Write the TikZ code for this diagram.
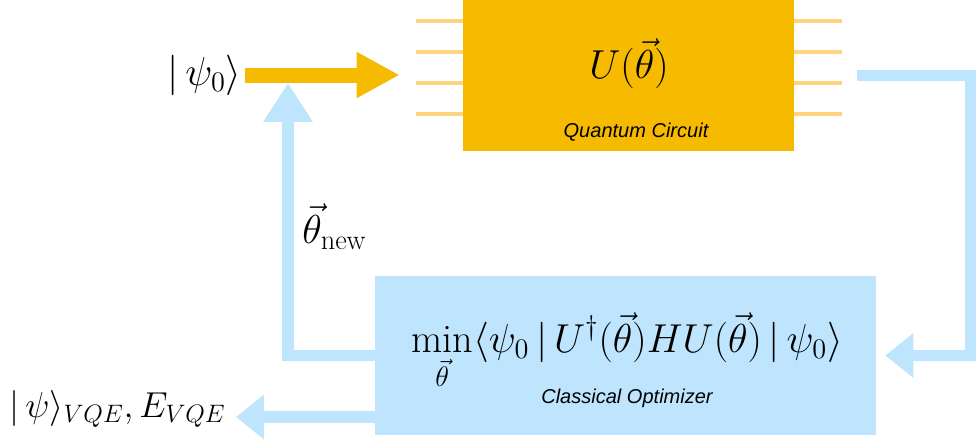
\RequirePackage{fix-cm}
\documentclass[tikz,border=0pt]{standalone}
\usepackage{fontspec}
\usepackage{amsmath}
\usetikzlibrary{arrows.meta,positioning,calc}
\newfontfamily\boxfont{Liberation Sans}
\definecolor{qyellow}{HTML}{F6BA00}
\definecolor{qwire}{HTML}{FFD47E}
\definecolor{qblue}{HTML}{BEE5FD}
\tikzset{
  circuitbox/.style={rectangle,fill=qyellow,draw=none,minimum width=6.62cm,minimum height=3.02cm,inner sep=0pt},
  optbox/.style={rectangle,fill=qblue,draw=none,minimum width=10.02cm,minimum height=3.18cm,inner sep=0pt},
  wire/.style={line width=0.08cm,qwire},
  yarrow/.style={-{Triangle[length=0.86cm,width=0.86cm]},line width=0.3cm,qyellow},
  barrow/.style={-{Triangle[length=0.56cm,width=0.86cm]},line width=0.23cm,qblue},
  bup/.style={-{Triangle[length=0.78cm,width=0.94cm]},line width=0.23cm,qblue},
  bigmath/.style={font=\fontsize{23}{27}\selectfont,inner sep=0pt},
  boxnote/.style={font=\boxfont\itshape\fontsize{11.4}{13}\selectfont,inner sep=0pt}
}

\begin{document}
\begin{tikzpicture}[x=0.02cm,y=-0.02cm]
  \useasboundingbox (0,0) rectangle (976,440);
  % boxes
  \node[circuitbox] (circuit) at (628.5,75.5) {};
  \node[optbox] (optimizer) at (625.5,355.5) {};
  % qubit wires
  \foreach \wy in {21,52,83,114} {
    \draw[wire] (circuit.west |- 0,\wy) -- ++(-47,0);
    \draw[wire] (circuit.east |- 0,\wy) -- ++(48,0);
  }
  % texts
  \node[bigmath,anchor=base] (unitary) at (629,78) {$U(\vec{\theta})$};
  \node[boxnote,anchor=base] (qclabel) at (636,137) {Quantum Circuit};
  \node[bigmath,anchor=base] (cost) at (627,352)
    {$\displaystyle\min_{\vec{\theta}}\langle\psi_0\,|\,U^{\dagger}(\vec{\theta})HU(\vec{\theta})\,|\,\psi_0\rangle$};
  \node[boxnote,anchor=base] (oplabel) at (627,403) {Classical Optimizer};
  \node[bigmath,anchor=east] (psiin) at (242,75) {$|\,\psi_0\rangle$};
  \node[bigmath,font=\fontsize{20.5}{24}\selectfont,anchor=base east] (psiout) at (226,417)
    {$|\,\psi\rangle_{VQE},E_{VQE}$};
  \node[bigmath,anchor=base west] (thetanew) at (302,243) {$\vec{\theta}_{\mathrm{new}}$};
  % connectors
  \coordinate (join) at (288,83);
  \draw[bup] (optimizer.west) -| (join);
  \draw[yarrow,shorten <=0.06cm,shorten >=1.26cm] (psiin.east) -- (circuit.west |- psiin.east);
  \draw[barrow,shorten <=1.26cm,shorten >=0.18cm] (circuit.east) -- ++(176,0) |- (optimizer.east);
  \draw[barrow,shorten >=0.2cm] (optimizer.west |- psiout.base east) -- (psiout.base east);
\end{tikzpicture}
\end{document}
